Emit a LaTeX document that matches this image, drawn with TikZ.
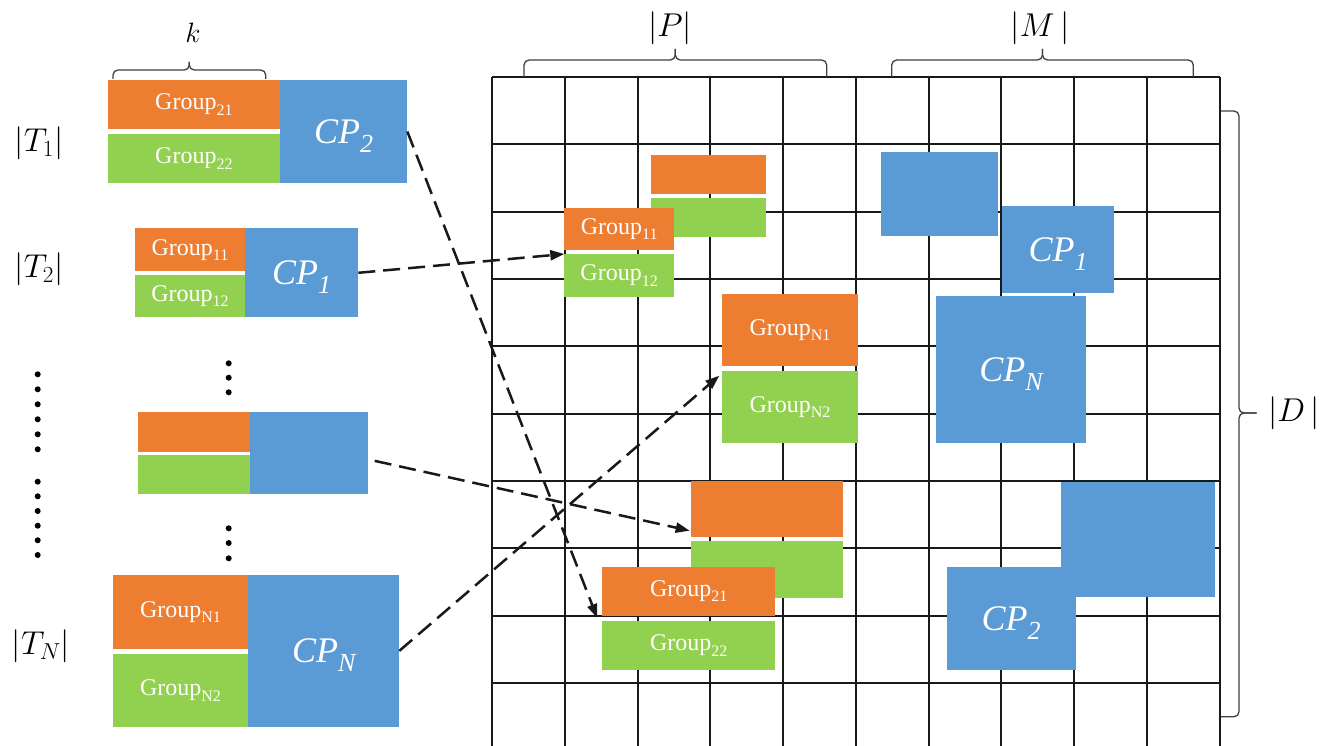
\documentclass[tikz,border=0pt]{standalone}
\usepackage{fix-cm}
\usepackage{fontspec}
\setmainfont{Liberation Serif}
\usetikzlibrary{arrows.meta,calc}
\definecolor{cOr}{HTML}{ED7D31}
\definecolor{cGr}{HTML}{92D050}
\definecolor{cBl}{HTML}{5B9BD5}
\newcommand{\grplabel}[1]{{\fontsize{24}{24}\selectfont Group\smash{\raisebox{-0.22em}{\fontsize{16}{16}\selectfont #1}}}}
\newcommand{\cplabel}[1]{{\fontsize{36}{36}\selectfont\itshape CP\smash{\raisebox{-0.25em}{\fontsize{26}{26}\selectfont #1}}}}
\newcommand{\bx}[7]{\node[blk,fill=#2,minimum width={#5-#3},minimum height={#6-#4}] (#1) at (#3,#4) {#7};}
\tikzset{
  blk/.style={inner sep=0pt, outer sep=0pt, anchor=north west, text=white, draw=none},
  gl/.style={line width=2pt, draw=black!90},
  conn/.style={line width=2.5pt, draw=black!90, dash pattern=on 17pt off 8pt, -{Stealth[length=14pt,width=10pt,inset=0pt]}},
  brc/.style={line width=1.3pt, draw=black!75, rounded corners=5pt},
  dot/.style={circle, fill=black, inner sep=0pt, minimum size=6pt},
  lab/.style={inner sep=0pt, font=\fontsize{33}{33}\selectfont},
}
\begin{document}
\begin{tikzpicture}[x=1pt,y=-1pt]
\useasboundingbox (0,0) rectangle (1339,746);
\fill[white] (0,0) rectangle (1339,746);

% grid
\foreach \i in {0,...,10} \draw[gl] ({492+\i*72.75},77) -- ({492+\i*72.75},746);
\foreach \j in {0,...,9} \draw[gl] (492,{77+\j*67.33}) -- (1219.5,{77+\j*67.33});

% left blocks
\bx{t1o}{cOr}{107.7}{80}{280}{129}{\grplabel{21}}
\bx{t1g}{cGr}{107.7}{134}{280}{182.7}{\grplabel{22}}
\bx{t1b}{cBl}{280}{80}{407.3}{183}{\cplabel{2}}
\bx{t2o}{cOr}{135}{228.3}{245}{271}{\grplabel{11}}
\bx{t2g}{cGr}{135}{275}{245}{317.3}{\grplabel{12}}
\bx{t2b}{cBl}{245}{228.3}{358.3}{317.3}{\cplabel{1}}
\bx{mo}{cOr}{138.3}{411.7}{250}{451.7}{}
\bx{mg}{cGr}{138.3}{455}{250}{494}{}
\bx{mb}{cBl}{250}{411.7}{367.7}{494}{}
\bx{tno}{cOr}{112.7}{575}{248.3}{649}{\grplabel{N1}}
\bx{tng}{cGr}{112.7}{654}{248.3}{726.7}{\grplabel{N2}}
\bx{tnb}{cBl}{248.3}{575}{399.3}{726.7}{\cplabel{N}}

% grid blocks
\bx{uao}{cOr}{650.7}{155}{765.7}{194.3}{}
\bx{uag}{cGr}{650.7}{198.3}{765.7}{237.3}{}
\bx{g11}{cOr}{564.3}{207.7}{674}{250}{\grplabel{11}}
\bx{g12}{cGr}{564.3}{254}{674}{296.7}{\grplabel{12}}
\bx{gn1}{cOr}{722.3}{294}{857.7}{366}{\grplabel{N1}}
\bx{gn2}{cGr}{722.3}{370.7}{857.7}{443.3}{\grplabel{N2}}
\bx{ubo}{cOr}{690.7}{480.7}{843.3}{536.7}{}
\bx{ubg}{cGr}{690.7}{540.7}{843.3}{597.7}{}
\bx{g21}{cOr}{602.3}{566.7}{775.3}{615.7}{\grplabel{21}}
\bx{g22}{cGr}{602.3}{620.7}{775.3}{670}{\grplabel{22}}
\bx{bA}{cBl}{880.7}{152}{997.7}{235.7}{}
\bx{cpa}{cBl}{1001.7}{206}{1114.3}{293.3}{\cplabel{1}}
\bx{cpn}{cBl}{936}{295.7}{1086}{443.3}{\cplabel{N}}
\bx{bB}{cBl}{1060.7}{481.7}{1215}{596.7}{}
\bx{cpb}{cBl}{946.7}{566.7}{1075.7}{670}{\cplabel{2}}

% connectors
\draw[conn] (t1b.east) -- ($(g21.south west)+(-5,2.3)$);
\draw[conn] (t2b.east) -- (g12.north west);
\draw[conn] ($(mb.east)+(7,8)$) -- ($(ubo.south west)+(-1,-6)$);
\draw[conn] (tnb.east) -- ($(gn2.north west)+(-3,5)$);

% braces
\draw[brc] (113,79) -- (113,70) -- (189.3,70) -- (189.3,62);
\draw[brc] (265.7,79) -- (265.7,70) -- (189.3,70) -- (189.3,62);
\draw[brc] (524,77) -- (524,60) -- (675.3,60) -- (675.3,49);
\draw[brc] (826.7,77) -- (826.7,60) -- (675.3,60) -- (675.3,49);
\draw[brc] (891.7,77) -- (891.7,60) -- (1042.5,60) -- (1042.5,49);
\draw[brc] (1193.3,77) -- (1193.3,60) -- (1042.5,60) -- (1042.5,49);
\draw[brc] (1221,111) -- (1239,111) -- (1239,413) -- (1256.5,413);
\draw[brc] (1221,716.7) -- (1239,716.7) -- (1239,413) -- (1256.5,413);

% labels
\node[lab,font=\fontsize{28}{28}\selectfont] (lk) at (193,33) {$k$};
\node[lab] (lP) at (670,28) {$|P|$};
\node[lab] (lM) at (1040,28) {$|M\,|$};
\node[lab] (lD) at (1294,413) {$|D\,|$};
\node[lab] (lT1) at (39,143) {$|T_1|$};
\node[lab] (lT2) at (39,269) {$|T_2|$};
\node[lab] (lTN) at (41,646) {$|T_N|$};

% dots
\foreach \y [count=\n] in {374.3,389.3,404.3,419.3,434.3,449.3,481.7,496.3,511,525.7,540.3,555}
  \node[dot] (dl\n) at (37.7,\y) {};
\foreach \y [count=\n] in {363.3,377.7,392.3,528.3,543,558.3}
  \node[dot] (dm\n) at (228.7,\y) {};
\end{tikzpicture}
\end{document}
